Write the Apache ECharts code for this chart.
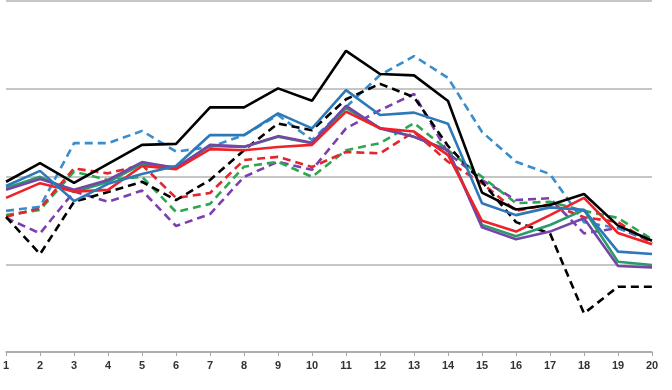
<!DOCTYPE html>
<html>
<head>
<meta charset="utf-8">
<script src="https://cdn.jsdelivr.net/npm/echarts@6/dist/echarts.min.js"></script>
<style>html,body{margin:0;padding:0;background:#fff}#c{width:672px;height:390px}</style>
</head>
<body>
<div id="c"></div>
<script>
var categories = ['1','2','3','4','5','6','7','8','9','10','11','12','13','14','15','16','17','18','19','20'];
var blackSolid  = [48.5,53.8,48.2,53.6,59.0,59.3,69.7,69.7,75.1,71.6,85.8,79.2,78.8,71.5,45.4,40.6,41.9,45.0,36.0,31.7];
var blackDashed = [38.5,27.9,42.8,45.6,48.5,43.3,49.0,57.5,65.1,63.2,72.0,76.4,72.6,58.7,48.5,37.0,33.8,11.0,18.6,18.6];
var blueSolid   = [47.3,51.6,43.0,47.9,50.7,53.0,61.8,61.8,68.0,63.7,74.6,67.5,68.2,65.0,42.4,39.0,41.2,40.5,28.6,27.9];
var blueDashed  = [40.2,41.4,59.5,59.5,63.0,57.1,58.4,61.8,67.5,60.4,69.8,78.9,84.3,78.1,62.7,54.2,50.7,37.0,35.3,31.9];
var redSolid    = [43.9,48.1,45.7,46.2,53.0,52.1,57.8,57.5,58.4,59.0,68.5,63.7,62.8,56.1,37.4,34.3,39.0,43.9,33.9,30.7];
var redDashed   = [38.5,41.0,52.3,50.9,53.3,43.9,45.3,54.7,55.6,52.7,57.0,56.6,62.7,54.2,48.1,40.2,42.1,38.4,37.0,30.9];
var greenSolid  = [46.7,49.9,45.6,48.4,53.5,52.7,58.7,58.4,61.3,59.5,69.5,63.8,61.3,57.5,36.2,33.0,36.2,40.5,25.7,24.8];
var greenDashed = [39.0,40.5,51.4,49.0,49.9,39.9,42.2,52.8,54.2,49.9,57.5,59.5,65.2,57.5,49.9,42.4,42.8,40.2,38.2,32.1];
var purpleSolid = [46.2,49.3,46.2,49.0,54.1,52.4,59.0,58.5,61.5,59.6,70.1,63.7,61.3,57.5,35.5,32.1,34.3,38.1,24.5,24.1];
var purpleDashed= [38.2,33.8,45.7,42.8,46.0,35.9,39.3,49.9,54.2,51.9,63.7,68.9,73.5,56.7,49.0,43.3,43.8,33.8,35.3,31.4];

function mk(name, data, color, dashed) {
  return {
    name: name, type: 'line', data: data, symbol: 'none', smooth: false,
    lineStyle: { color: color, width: 2.6, type: dashed ? [8, 5] : 'solid' },
    itemStyle: { color: color }, animation: false
  };
}
var chart = echarts.init(document.getElementById('c'), null, { renderer: 'canvas' });
chart.setOption({
  backgroundColor: '#fff',
  animation: false,
  grid: { left: 0, right: 20, top: 1, bottom: 38, containLabel: false },
  xAxis: {
    type: 'category', data: categories, boundaryGap: false,
    axisLine: { show: true, lineStyle: { color: '#a6a6a6', width: 1.5 } },
    axisTick: { show: true, alignWithLabel: true, length: 4, lineStyle: { color: '#a6a6a6' } },
    axisLabel: { color: '#333', fontSize: 11, fontWeight: 'bold', fontFamily: 'Liberation Sans, Arial, sans-serif', margin: 8 },
    splitLine: { show: false }
  },
  yAxis: {
    type: 'value', min: 0, max: 100, interval: 25,
    axisLine: { show: false }, axisTick: { show: false }, axisLabel: { show: false },
    splitLine: { show: true, lineStyle: { color: '#b3b3b3', width: 1.5 } }
  },
  series: [
    mk('Purple dashed', purpleDashed, '#7d3fb0', true),
    mk('Green dashed', greenDashed, '#2ea64f', true),
    mk('Red dashed', redDashed, '#e3262b', true),
    mk('Blue dashed', blueDashed, '#3a8dcc', true),
    mk('Black dashed', blackDashed, '#000000', true),
    mk('Green solid', greenSolid, '#2a9a6a', false),
    mk('Purple solid', purpleSolid, '#7446a8', false),
    mk('Red solid', redSolid, '#ee2228', false),
    mk('Blue solid', blueSolid, '#2c78b8', false),
    mk('Black solid', blackSolid, '#000000', false)
  ]
});
</script>
</body>
</html>
